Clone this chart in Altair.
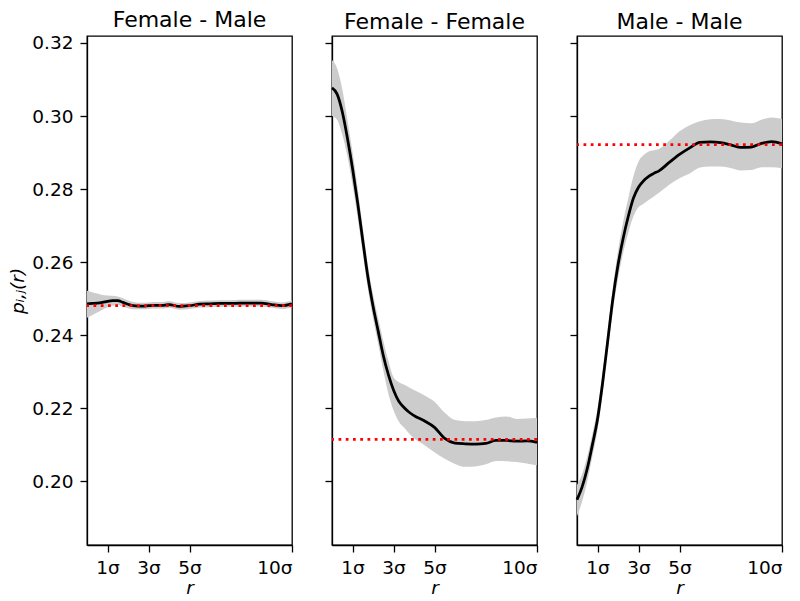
import altair as alt
import pandas as pd

# radial distance in units of sigma
R = [0, 0.25, 0.5, 0.75, 1.0, 1.25, 1.5, 1.75, 2.0, 2.25, 2.5, 2.75, 3.0, 3.25, 3.5, 3.75,
     4.0, 4.5, 5.0, 5.5, 6.0, 6.5, 7.0, 7.5, 8.0, 8.5, 9.0, 9.5, 10.0]

# Female - Male
FM_MEAN = [0.2486, 0.2487, 0.2488, 0.2490, 0.2493, 0.2495, 0.2495, 0.2490, 0.2485, 0.2481, 0.2480,
           0.2480, 0.2481, 0.2482, 0.2482, 0.2482, 0.2484, 0.2479, 0.2481, 0.2485, 0.2486, 0.2487,
           0.2487, 0.2488, 0.2488, 0.2488, 0.2484, 0.2481, 0.2486]
FM_LO = [0.2448, 0.2455, 0.2462, 0.2470, 0.2477, 0.2481, 0.2483, 0.2478, 0.2474, 0.2471, 0.2471,
         0.2471, 0.2472, 0.2473, 0.2473, 0.2473, 0.2475, 0.2470, 0.2472, 0.2476, 0.2477, 0.2478,
         0.2478, 0.2479, 0.2479, 0.2479, 0.2475, 0.2472, 0.2477]
FM_HI = [0.2522, 0.2518, 0.2514, 0.2510, 0.2509, 0.2508, 0.2506, 0.2501, 0.2496, 0.2491, 0.2489,
         0.2489, 0.2490, 0.2491, 0.2491, 0.2491, 0.2493, 0.2488, 0.2490, 0.2494, 0.2495, 0.2496,
         0.2496, 0.2497, 0.2497, 0.2497, 0.2493, 0.2490, 0.2495]

# Female - Female
FF_MEAN = [0.3077, 0.3060, 0.3012, 0.2940, 0.2857, 0.2763, 0.2660, 0.2560, 0.2480, 0.2412, 0.2345,
           0.2292, 0.2250, 0.2220, 0.2203, 0.2190, 0.2180, 0.2166, 0.2148, 0.2118, 0.2105, 0.2103,
           0.2102, 0.2104, 0.2112, 0.2112, 0.2110, 0.2111, 0.2107]
FF_LO = [0.3000, 0.2990, 0.2950, 0.2890, 0.2812, 0.2723, 0.2625, 0.2527, 0.2447, 0.2377, 0.2305,
         0.2240, 0.2195, 0.2165, 0.2148, 0.2132, 0.2118, 0.2100, 0.2080, 0.2062, 0.2048, 0.2040,
         0.2041, 0.2047, 0.2056, 0.2055, 0.2053, 0.2049, 0.2044]
FF_HI = [0.3153, 0.3130, 0.3074, 0.2990, 0.2902, 0.2803, 0.2695, 0.2593, 0.2513, 0.2447, 0.2385,
         0.2330, 0.2285, 0.2272, 0.2265, 0.2258, 0.2250, 0.2236, 0.2218, 0.2188, 0.2168, 0.2165,
         0.2165, 0.2168, 0.2175, 0.2178, 0.2171, 0.2172, 0.2174]

# Male - Male
MM_MEAN = [0.1950, 0.1985, 0.2035, 0.2100, 0.2170, 0.2270, 0.2385, 0.2500, 0.2592, 0.2665, 0.2725,
           0.2775, 0.2805, 0.2823, 0.2835, 0.2843, 0.2850, 0.2873, 0.2895, 0.2913, 0.2928, 0.2929,
           0.2927, 0.2921, 0.2914, 0.2915, 0.2925, 0.2930, 0.2924]
MM_LO = [0.1905, 0.1945, 0.2000, 0.2068, 0.2140, 0.2240, 0.2355, 0.2468, 0.2555, 0.2625, 0.2680,
         0.2725, 0.2750, 0.2760, 0.2770, 0.2780, 0.2790, 0.2812, 0.2830, 0.2843, 0.2859, 0.2862,
         0.2862, 0.2858, 0.2851, 0.2852, 0.2860, 0.2860, 0.2857]
MM_HI = [0.1990, 0.2020, 0.2068, 0.2130, 0.2200, 0.2300, 0.2415, 0.2532, 0.2630, 0.2710, 0.2775,
         0.2835, 0.2875, 0.2893, 0.2903, 0.2906, 0.2910, 0.2932, 0.2958, 0.2975, 0.2986, 0.2991,
         0.2992, 0.2988, 0.2982, 0.2980, 0.2990, 0.2996, 0.2992]

TITLES = ["Female - Male", "Female - Female", "Male - Male"]
REFS = [0.2481, 0.2115, 0.2922]
X_TICKS = [1, 3, 5, 10]
Y_TICKS = [0.20, 0.22, 0.24, 0.26, 0.28, 0.30, 0.32]

SERIES = [(FM_MEAN, FM_LO, FM_HI), (FF_MEAN, FF_LO, FF_HI), (MM_MEAN, MM_LO, MM_HI)]

FONT = "DejaVu Sans"
xscale = alt.Scale(domain=[0, 10], nice=False, zero=False)
yscale = alt.Scale(domain=[0.1826, 0.3219], nice=False, zero=False)


def panel(i):
    mean, lo, hi = SERIES[i]
    df = pd.DataFrame({"r": R, "mean": mean, "lo": lo, "hi": hi})
    ref = pd.DataFrame({"ref": [REFS[i]]})
    xaxis = alt.Axis(values=X_TICKS, labelExpr="datum.value + 'σ'", title="r",
                     titleFontStyle="italic", titlePadding=2)
    if i == 0:
        yaxis = alt.Axis(values=Y_TICKS, format=".2f", title="pᵢ,ⱼ(r)",
                         titleFontStyle="italic", labelPadding=7, titlePadding=4)
    else:
        yaxis = alt.Axis(values=Y_TICKS, labels=False, title=None)
    x = alt.X("r:Q", scale=xscale, axis=xaxis)
    band = alt.Chart(df).mark_area(color="#cccccc", interpolate="monotone").encode(
        x=x, y=alt.Y("lo:Q", scale=yscale, axis=yaxis), y2="hi:Q")
    line = alt.Chart(df).mark_line(color="black", strokeWidth=2.75, interpolate="monotone").encode(
        x=x, y=alt.Y("mean:Q", scale=yscale, axis=yaxis))
    rule = alt.Chart(ref).mark_rule(color="red", strokeWidth=2.75, strokeDash=[2.75, 4.5]).encode(
        y=alt.Y("ref:Q", scale=yscale, axis=yaxis))
    return alt.layer(band, line, rule).properties(
        width=205, height=509,
        title=alt.TitleParams(TITLES[i], fontSize=22, font=FONT, fontWeight="normal",
                              color="black", offset=2))


chart = alt.hconcat(panel(0), panel(1), panel(2), spacing=40, bounds="flush").properties(
    padding=0
).configure_axis(
    labelFont=FONT, labelFontSize=18.5, labelColor="black", labelPadding=6,
    titleFont=FONT, titleFontSize=18.5, titleColor="black", titleFontWeight="normal",
    tickColor="black", tickSize=7, tickWidth=1.3, domainColor="black", domainWidth=1.3,
    grid=False,
).configure_view(stroke="black", strokeWidth=1.3)

chart.save("out.html", embed_options={"renderer": "svg", "actions": False})
